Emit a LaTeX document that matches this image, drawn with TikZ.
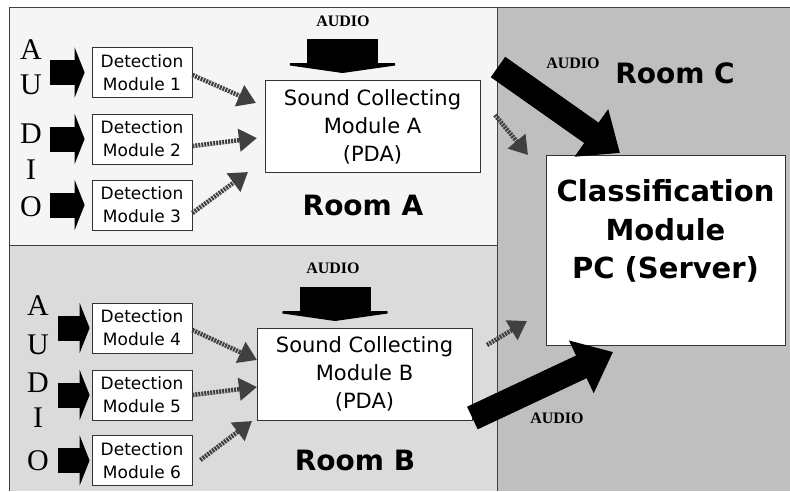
\documentclass[tikz,border=0pt]{standalone}
\usepackage{fontspec}
\setmainfont{DejaVu Sans}
\newfontfamily\audiofont{Liberation Serif}
\usetikzlibrary{arrows.meta}

\begin{document}
\begin{tikzpicture}[x=1pt, y=-1pt,
    module/.style={draw=black!80, fill=white, line width=0.8pt, align=center,
      inner sep=0pt, minimum width=100pt, minimum height=50pt,
      font=\fontsize{17}{23}\selectfont},
    collector/.style={module, minimum width=215pt, minimum height=92pt,
      font=\fontsize{21}{28}\selectfont},
    roomlabel/.style={font=\fontsize{28}{32}\selectfont\bfseries},
    audiolabel/.style={font=\audiofont\fontsize{16}{18}\selectfont\bfseries},
    bigletter/.style={font=\audiofont\fontsize{30}{32}\selectfont},
    inarrow/.style={line width=25pt, -{Triangle[length=10pt, width=50pt]}},
    downarrow/.style={line width=71pt, -{Triangle[length=10pt, width=140pt]}},
    fatarrow/.style={line width=25pt, -{Triangle[length=35pt, width=56pt]}},
    dotarrow/.style={line width=4.5pt, black!75, dash pattern=on 2pt off 1pt,
      -{Triangle[length=18pt, width=22pt]}}
  ]

    \useasboundingbox (0,0) rectangle (790,491);

    % Rooms
    \fill[black!4] (9,7) rectangle (497,245);
    \fill[black!14] (9,245) rectangle (497,491);
    \fill[black!25] (497,7) rectangle (790,491);
    \draw[black!75, line width=1pt] (9,491) -- (9,7) -- (790,7);
    \draw[black!75, line width=1pt] (9,245) -- (497,245);
    \draw[black!75, line width=1pt] (497,7) -- (497,491);

    % Vertical AUDIO letters
    \foreach \c/\y in {A/50, U/85, D/134, I/170, O/207}
      \node[bigletter] at (31,\y) {\c};
    \foreach \c/\y in {A/306, U/345, D/383, I/418, O/461}
      \node[bigletter] at (38,\y) {\c};

    % Detection modules, room A
    \foreach \i/\y in {1/72.5, 2/139, 3/205} {
      \node[module] (det\i) at (142,\y) {Detection\\Module \i};
      \coordinate (in\i) at (50,\y);
      \draw[inarrow] (in\i) -- ([xshift=-7pt]det\i.west);
    }

    % Detection modules, room B
    \foreach \i/\y in {4/328, 5/395, 6/460.5} {
      \node[module] (det\i) at (142,\y) {Detection\\Module \i};
      \coordinate (in\i) at (58,\y);
      \draw[inarrow] (in\i) -- ([xshift=-2pt]det\i.west);
    }

    % Sound collecting modules
    \node[collector] (scA) at (372.5,126.5) {Sound Collecting\\Module A\\(PDA)};
    \node[collector] (scB) at (364.5,374) {Sound Collecting\\Module B\\(PDA)};

    % Classification module
    \node[draw=black!80, fill=white, line width=0.8pt, minimum width=239pt,
      minimum height=190pt] (cls) at (665.5,250) {};
    \node[align=center, font=\fontsize{29}{38.5}\selectfont\bfseries]
      (clstext) at (665.5,231) {Classification\\Module\\PC (Server)};

    % Room labels
    \node[roomlabel] (roomA) at (363,205) {Room A};
    \node[roomlabel] (roomB) at (355,460) {Room B};
    \node[roomlabel] (roomC) at (675,73) {Room C};

    % Audio into the collectors
    \node[audiolabel] (audA) at (343,21) {AUDIO};
    \coordinate (topA) at (342.5,39);
    \coordinate (tipA) at (342.5,73);
    \draw[downarrow] (topA) -- (tipA);

    \node[audiolabel] (audB) at (333,268) {AUDIO};
    \coordinate (topB) at (335,287);
    \coordinate (tipB) at (335,321);
    \draw[downarrow] (topB) -- (tipB);

    % Detection to collector
    \draw[dotarrow] (det1.east |- 0,75) -- (256,103);
    \draw[dotarrow] (det2.east |- 0,146) -- (257,138);
    \draw[dotarrow] (det3.east |- 0,213) -- (248,172);
    \draw[dotarrow] (det4.east |- 0,330) -- (257,360);
    \draw[dotarrow] (det5.east |- 0,395) -- (257,387);
    \draw[dotarrow] ([xshift=8pt]det6.east |- 0,460) -- (252,421);

    % Collectors to classification
    \coordinate (outA) at (495,115);
    \coordinate (inA) at (528,155);
    \draw[dotarrow] (outA) -- (inA);
    \coordinate (outB) at (487,345);
    \coordinate (inB) at (527,321);
    \draw[dotarrow] (outB) -- (inB);

    % Audio into the classification module
    \node[audiolabel] (audC) at (573,63) {AUDIO};
    \coordinate (srcC) at (498,67);
    \coordinate (tipC) at (620,153);
    \draw[fatarrow] (srcC) -- (tipC);

    \node[audiolabel] (audD) at (557,418) {AUDIO};
    \coordinate (srcD) at (scB.east |- 0,418);
    \coordinate (tipD) at (613,352);
    \draw[fatarrow] (srcD) -- (tipD);

\end{tikzpicture}
\end{document}
